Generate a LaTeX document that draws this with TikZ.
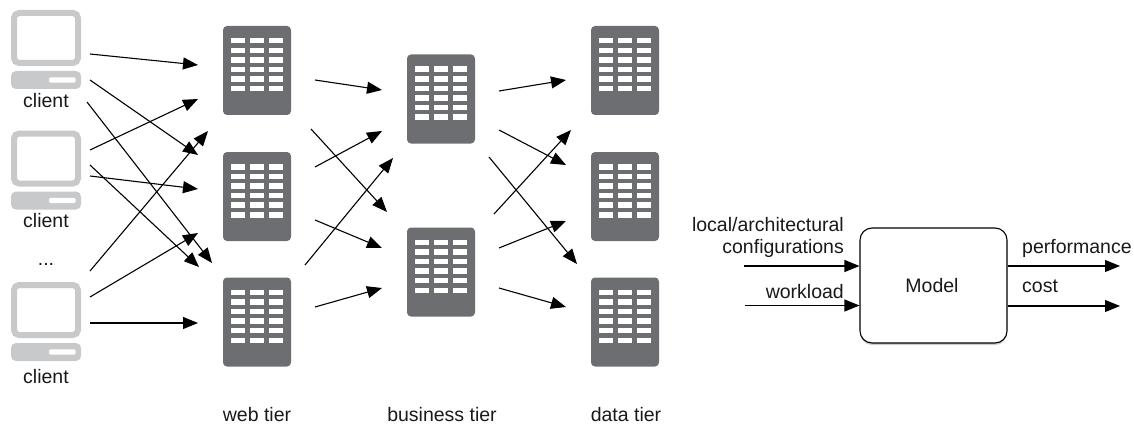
\documentclass[tikz,border=0pt]{standalone}
\usepackage{fontspec}
\setmainfont{Liberation Sans}
\usetikzlibrary{arrows.meta,shadows}
\definecolor{srv}{RGB}{109,110,113}
\definecolor{cli}{RGB}{200,201,203}
\tikzset{
  x=1pt,y=-1pt,
  conn/.style={draw=black,line width=1.1pt,-{Triangle[length=15pt,width=12pt]}},
  lbl/.style={font=\fontsize{19.5}{23}\selectfont,inner sep=0pt,text=black!90,anchor=base},
  srvbody/.style={fill=srv,draw=none,rounded corners=4pt,minimum width=68pt,minimum height=89pt,inner sep=0pt},
}
\newcommand{\srvnode}[3]{%
  \node[srvbody] (#1) at (#2,#3) {};
  \foreach \r in {0,...,5}{\foreach \c in {-1,0,1}{
    \fill[white] ({#2+\c*19-7},{#3-32.5+\r*9.6}) rectangle ++(14,5.5);
  }}}
\newcommand{\clinode}[3]{%
  \node[draw=cli,line width=6pt,rounded corners=5pt,minimum width=64pt,minimum height=50pt,inner sep=0pt,fill=white] (#1) at (#2,#3) {};
  \node[fill=cli,rounded corners=5pt,minimum width=70pt,minimum height=18pt,inner sep=0pt] (#1b) at (#2,#3+42) {};
  \fill[white,rounded corners=1.5pt] ({#2+3},{#3+39.3}) rectangle ++(26.7,5.4);}
\begin{document}
\begin{tikzpicture}
\useasboundingbox (0,0) rectangle (1134,425);
\clinode{c1}{46}{38}
\clinode{c2}{46}{158.5}
\clinode{c3}{46}{310}
\node[lbl] (lc1) at (46,107) {client};
\node[lbl] (lc2) at (46,227) {client};
\node[lbl] (ldots) at (46,265) {...};
\node[lbl] (lc3) at (46,383) {client};
\srvnode{w1}{257}{70.5}
\srvnode{w2}{257}{196.5}
\srvnode{w3}{257}{322}
\srvnode{b1}{441}{99}
\srvnode{b2}{441}{272}
\srvnode{d1}{625}{70.5}
\srvnode{d2}{625}{196.5}
\srvnode{d3}{625}{322}
\node[lbl] (lw) at (257,421) {web tier};
\node[lbl] (lb) at (442,421) {business tier};
\node[lbl] (ld) at (626,421) {data tier};
\foreach \a/\b/\c/\d in {90/54/198/65, 90/80/198/155, 87/102/212/263, 90/150/198/99, 90/176/198/189, 90/165/199/267, 90/271/208/131, 90/297/198/233, 90/323/198/323,
 315/80/382/90, 311/129/387/212, 315/167/382/131, 305/265/393/158, 315/220/382/248, 315/307/382/288,
 499/91/566/80, 499/130/566/165, 494/214/571/130, 489/157/577/264, 499/248/566/221, 499/288/566/307}{
  \draw[conn] (\a,\b) -- (\c,\d);
}
\node[fill=white,draw=black,line width=1.1pt,rounded corners=12pt,minimum width=147pt,minimum height=115pt,inner sep=0pt,drop shadow={shadow xshift=0pt,shadow yshift=-2pt,fill=black!40,opacity=.5}] (m) at (933.5,285.5) {};
\node[lbl] (mt) at (932,292) {Model};
\coordinate (i1) at (744,266); \coordinate (i2) at (745,305.5);
\coordinate (o1) at (1120,266); \coordinate (o2) at (1120,306);
\draw[conn] (i1) -- (m.west |- i1);
\draw[conn] (i2) -- (m.west |- i2);
\draw[conn] (m.east |- o1) -- (o1);
\draw[conn] (m.east |- o2) -- (o2);
\node[lbl,anchor=base east] (t1) at (844,231) {local/architectural};
\node[lbl,anchor=base east] (t2) at (844,253) {configurations};
\node[lbl,anchor=base east] (t3) at (844,298) {workload};
\node[lbl,anchor=base west] (t4) at (1022,253) {performance};
\node[lbl,anchor=base west] (t5) at (1022,292) {cost};
\end{tikzpicture}
\end{document}
